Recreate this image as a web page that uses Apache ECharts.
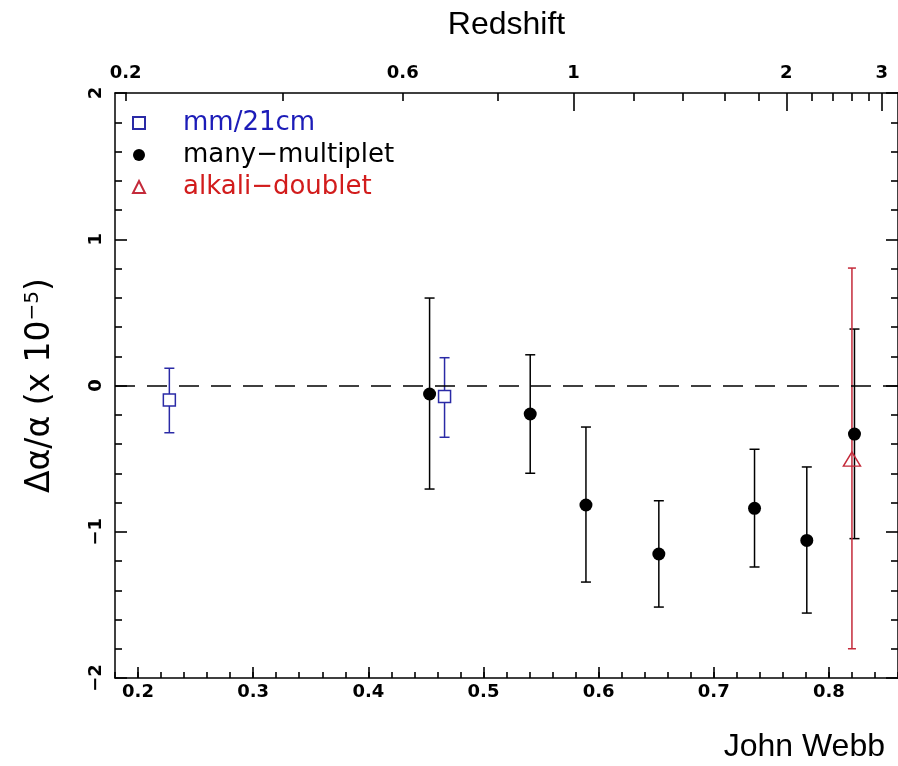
<!DOCTYPE html>
<html><head><meta charset="utf-8">
<script src="https://cdn.jsdelivr.net/npm/echarts@6/dist/echarts.min.js"></script>
<style>html,body{margin:0;padding:0;background:#fff}#c{width:898px;height:766px}</style>
</head><body><div id="c"></div>
<script>
// ---- data ----
const mmX  = [0.2272, 0.4662];
const mmY  = [-0.099, -0.076];
const mmHi = [0.118, 0.190];
const mmLo = [-0.323, -0.354];

const mmpX  = [0.4532, 0.5406, 0.5890, 0.6523, 0.7354, 0.7808, 0.8222];
const mmpY  = [-0.058, -0.195, -0.817, -1.152, -0.840, -1.059, -0.332];
const mmpHi = [0.598, 0.210, -0.284, -0.788, -0.436, -0.557, 0.386];
const mmpLo = [-0.708, -0.600, -1.344, -1.515, -1.241, -1.556, -1.047];

const adX  = [0.820];
const adY  = [-0.503];
const adHi = [0.803];
const adLo = [-1.800];

const bottomTicks = [0.2, 0.3, 0.4, 0.5, 0.6, 0.7, 0.8];
const redshiftValues    = [0.2, 0.4, 0.6, 0.8, 1, 1.2, 1.4, 1.6, 1.8, 2, 2.2, 2.4, 2.6, 2.8, 3];
const redshiftPositions = [0.1892, 0.3258, 0.4299, 0.5128, 0.5781, 0.6307, 0.6733, 0.7092, 0.7391, 0.7630, 0.7852, 0.8033, 0.8199, 0.8343, 0.8458];
const redshiftLabels = ['0.2', '0.6', '1', '2', '3'];
const seriesNames = ['mm/21cm', 'many\u2212multiplet', 'alkali\u2212doublet'];

// ---- styling ----
const BLUE = '#2a2aa6', BLUE_T = '#1c1cb8', RED = '#c42a3a', RED_T = '#d21c1c';
const XMIN = 0.18, XMAX = 0.86;
const tickFont = {fontFamily: 'DejaVu Sans', fontWeight: 'bold', fontSize: 18, color: '#000'};
const axisLn = {show: true, onZero: false, lineStyle: {color: '#000', width: 1.5}};
const noLn = {show: false, onZero: false};
const tickLine = {color: '#000', width: 1.6};

const labelPos = redshiftLabels.map(l => redshiftPositions[redshiftValues.indexOf(parseFloat(l))]);
const shortPos = redshiftPositions.filter((p, i) => !Number.isInteger(redshiftValues[i]));
const longPos  = redshiftPositions.filter((p, i) => Number.isInteger(redshiftValues[i]));

function errSeries(xs, lo, hi, color, capW) {
  return {
    type: 'custom', silent: true, z: 1, xAxisIndex: 0, yAxisIndex: 0,
    data: xs.map((x, i) => [x, lo[i], hi[i]]),
    encode: {x: 0, y: [1, 2]},
    renderItem(params, api) {
      const x = api.value(0);
      const p1 = api.coord([x, api.value(1)]);
      const p2 = api.coord([x, api.value(2)]);
      const h = capW / 2;
      const st = {stroke: color, lineWidth: 1.5};
      return {type: 'group', children: [
        {type: 'line', shape: {x1: p1[0], y1: p1[1], x2: p2[0], y2: p2[1]}, style: st},
        {type: 'line', shape: {x1: p1[0] - h, y1: p1[1], x2: p1[0] + h, y2: p1[1]}, style: st},
        {type: 'line', shape: {x1: p2[0] - h, y1: p2[1], x2: p2[0] + h, y2: p2[1]}, style: st}
      ]};
    }
  };
}

const chart = echarts.init(document.getElementById('c'), null, {renderer: 'canvas'});
chart.setOption({
  animation: false,
  backgroundColor: '#fff',
  title: {text: 'John Webb', right: 13, top: 731, padding: 0,
    textStyle: {fontFamily: 'Liberation Sans', fontSize: 32, fontWeight: 'normal', color: '#000'}},
  legend: {
    orient: 'vertical', left: 132, top: 110, padding: 0, itemWidth: 12, itemHeight: 12, itemGap: 6,
    selectedMode: false,
    formatter: n => '{g|}' + n,
    textStyle: {fontFamily: 'DejaVu Sans', fontSize: 26, lineHeight: 22, rich: {g: {width: 33}}},
    data: [
      {name: seriesNames[0], textStyle: {color: BLUE_T}},
      {name: seriesNames[1], textStyle: {color: '#000'}},
      {name: seriesNames[2], textStyle: {color: RED_T}}
    ]
  },
  grid: {left: 115, top: 93, width: 788, height: 585, containLabel: false},
  xAxis: [
    {type: 'value', position: 'bottom', min: XMIN, max: XMAX, interval: 0.02,
     axisLine: axisLn, axisTick: {show: true, inside: true, length: 6, lineStyle: tickLine},
     axisLabel: {show: false}, splitLine: {show: false}},
    {type: 'value', position: 'bottom', min: XMIN, max: XMAX,
     axisLine: noLn,
     axisTick: {show: true, inside: true, length: 11, customValues: bottomTicks, lineStyle: tickLine},
     axisLabel: Object.assign({customValues: bottomTicks, margin: 5, formatter: v => v.toFixed(1)}, tickFont),
     splitLine: {show: false}},
    {type: 'value', position: 'top', min: XMIN, max: XMAX,
     axisLine: axisLn,
     axisTick: {show: true, inside: true, length: 8, customValues: shortPos, lineStyle: tickLine},
     axisLabel: Object.assign({customValues: labelPos, margin: 11,
       formatter: v => { const i = labelPos.findIndex(p => Math.abs(p - v) < 1e-6); return i >= 0 ? redshiftLabels[i] : ''; }}, tickFont),
     splitLine: {show: false},
     name: 'Redshift', nameLocation: 'middle', nameGap: 52,
     nameTextStyle: {fontFamily: 'Liberation Sans', fontSize: 32, color: '#000'}},
    {type: 'value', position: 'top', min: XMIN, max: XMAX,
     axisLine: noLn,
     axisTick: {show: true, inside: true, length: 18, customValues: longPos, lineStyle: tickLine},
     axisLabel: {show: false}, splitLine: {show: false}}
  ],
  yAxis: [
    {type: 'value', position: 'left', min: -2, max: 2, interval: 1,
     axisLine: axisLn,
     axisTick: {show: true, inside: true, length: 12, lineStyle: tickLine},
     minorTick: {show: true, splitNumber: 5, length: 7, lineStyle: tickLine},
     axisLabel: Object.assign({rotate: 90, margin: 10, formatter: v => (v < 0 ? '\u2212' + Math.abs(v) : String(v))}, tickFont),
     splitLine: {show: false},
     name: '{a|\u0394\u03b1/\u03b1 (x 10}{s|\u22125}{a|)}', nameLocation: 'middle', nameGap: 58,
     nameTextStyle: {color: '#000', rich: {
       a: {fontFamily: 'DejaVu Sans', fontSize: 33, color: '#000', lineHeight: 34},
       s: {fontFamily: 'DejaVu Sans', fontSize: 20, color: '#000', verticalAlign: 'top', lineHeight: 34}
     }}},
    {type: 'value', position: 'right', min: -2, max: 2, interval: 1,
     axisLine: axisLn,
     axisTick: {show: true, inside: true, length: 12, lineStyle: tickLine},
     minorTick: {show: true, splitNumber: 5, length: 7, lineStyle: tickLine},
     axisLabel: {show: false}, splitLine: {show: false}}
  ],
  series: [
    errSeries(mmX, mmLo, mmHi, BLUE, 10),
    errSeries(mmpX, mmpLo, mmpHi, '#000', 10),
    errSeries(adX, adLo, adHi, RED, 8),
    {name: seriesNames[0], type: 'scatter', z: 3, symbol: 'rect', symbolSize: 12,
     itemStyle: {color: '#fff', borderColor: BLUE, borderWidth: 1.5, opacity: 1},
     data: mmX.map((x, i) => [x, mmY[i]])},
    {name: seriesNames[1], type: 'scatter', z: 3, symbol: 'circle', symbolSize: 13,
     itemStyle: {color: '#000', opacity: 1},
     data: mmpX.map((x, i) => [x, mmpY[i]]),
     markLine: {silent: true, symbol: ['none', 'none'], label: {show: false},
       lineStyle: {color: '#000', width: 1.5, type: [20, 12]},
       data: [{yAxis: 0}]}},
    {name: seriesNames[2], type: 'scatter', z: 3, symbol: 'triangle', symbolSize: [17, 14],
     itemStyle: {color: 'rgba(255,255,255,0)', borderColor: RED, borderWidth: 1.5, opacity: 1},
     data: adX.map((x, i) => [x, adY[i]])}
  ]
});
</script></body></html>
